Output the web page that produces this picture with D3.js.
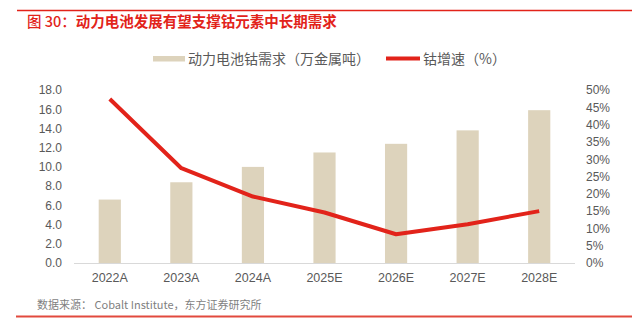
<!DOCTYPE html>
<html>
<head>
<meta charset="utf-8">
<script src="https://cdn.jsdelivr.net/npm/d3@7"></script>
<style>
  html, body { margin: 0; padding: 0; background: #fff; }
  svg { display: block; font-family: "Liberation Sans", Arial, "Noto Sans CJK SC", sans-serif; }
</style>
</head>
<body>
<svg id="chart" width="632" height="334"></svg>
<script>
// Battery cobalt demand (10k t metal) and its growth rate
const categories = ["2022A", "2023A", "2024A", "2025E", "2026E", "2027E", "2028E"];
const demand = [6.6, 8.4, 10.0, 11.5, 12.4, 13.8, 15.9];
const growth = [47.4, 27.4, 19.2, 14.6, 8.3, 11.2, 15.0];
const leftTicks = [0, 2, 4, 6, 8, 10, 12, 14, 16, 18];
const rightTicks = [0, 5, 10, 15, 20, 25, 30, 35, 40, 45, 50];

const titleLabel = "图 30：";
const title = "动力电池发展有望支撑钴元素中长期需求";
const legendBar = "动力电池钴需求（万金属吨）";
const legendLine = "钴增速（%）";
const source = "数据来源：  Cobalt Institute，东方证券研究所";

const svg = d3.select("#chart");
const red = "#e2231a";
const barColor = "#ddd3bc";
const textColor = "#595959";
const cjk = "'Noto Sans CJK SC', sans-serif";
const latin = "'Liberation Sans', Arial, sans-serif";

const plot = { left: 74, right: 575, top: 90, bottom: 263 };

const x = d3.scaleBand().domain(categories).range([plot.left, plot.right]).paddingInner(0.69).paddingOuter(0.345);
const yL = d3.scaleLinear().domain([0, 18]).range([plot.bottom, plot.top]);
const yR = d3.scaleLinear().domain([0, 50]).range([plot.bottom, plot.top]);

// frame lines
svg.append("line").attr("x1", 17).attr("x2", 632).attr("y1", 10.5).attr("y2", 10.5)
  .attr("stroke", red).attr("stroke-width", 1.5);
svg.append("line").attr("x1", 16).attr("x2", 632).attr("y1", 316.5).attr("y2", 316.5)
  .attr("stroke", "#e24a3e").attr("stroke-width", 2);

// title
const t = svg.append("text").attr("x", 27).attr("y", 27).attr("fill", red)
  .attr("font-family", cjk).attr("font-size", 14.5);
t.append("tspan").attr("font-weight", "500").text(titleLabel);
t.append("tspan").attr("font-weight", "bold").text(title);

// legend
svg.append("rect").attr("x", 153).attr("y", 56).attr("width", 32).attr("height", 5.5).attr("fill", barColor);
svg.append("text").attr("x", 188).attr("y", 63.5).attr("fill", textColor)
  .attr("font-family", cjk).attr("font-size", 14).text(legendBar);
svg.append("line").attr("x1", 386).attr("x2", 420).attr("y1", 58.5).attr("y2", 58.5)
  .attr("stroke", red).attr("stroke-width", 4);
svg.append("text").attr("x", 423).attr("y", 63.5).attr("fill", textColor)
  .attr("font-family", cjk).attr("font-size", 14).text(legendLine);

// bars
svg.append("g").selectAll("rect").data(demand).join("rect")
  .attr("x", (d, i) => x(categories[i]))
  .attr("width", x.bandwidth())
  .attr("y", d => yL(d))
  .attr("height", d => yL(0) - yL(d))
  .attr("fill", barColor);

// baseline
svg.append("line").attr("x1", plot.left).attr("x2", plot.right)
  .attr("y1", plot.bottom + 0.5).attr("y2", plot.bottom + 0.5)
  .attr("stroke", "#d9d9d9").attr("stroke-width", 1);

// left axis
const axL = svg.append("g").attr("transform", `translate(${plot.left},0)`)
  .call(d3.axisLeft(yL).tickValues(leftTicks).tickFormat(d3.format(".1f")).tickSize(0).tickPadding(12));
axL.select(".domain").remove();
axL.selectAll("text").attr("fill", textColor).attr("font-size", 12).attr("font-family", latin);

// right axis
const axR = svg.append("g").attr("transform", `translate(${plot.right},0)`)
  .call(d3.axisRight(yR).tickValues(rightTicks).tickFormat(d => d + "%").tickSize(0).tickPadding(11));
axR.select(".domain").remove();
axR.selectAll("text").attr("fill", textColor).attr("font-size", 12).attr("font-family", latin);

// category axis
const axB = svg.append("g").attr("transform", `translate(0,${plot.bottom})`)
  .call(d3.axisBottom(x).tickSize(0).tickPadding(10));
axB.select(".domain").remove();
axB.selectAll("text").attr("fill", textColor).attr("font-size", 12.5).attr("font-family", latin);

// growth line
const line = d3.line()
  .x((d, i) => x(categories[i]) + x.bandwidth() / 2)
  .y(d => yR(d));
svg.append("path").datum(growth).attr("d", line)
  .attr("fill", "none").attr("stroke", red).attr("stroke-width", 4)
  .attr("stroke-linejoin", "round").attr("stroke-linecap", "butt");

// source
svg.append("text").attr("x", 37).attr("y", 309).attr("fill", "#7f7f7f")
  .attr("font-family", cjk).attr("font-size", 11).text(source);
</script>
</body>
</html>
